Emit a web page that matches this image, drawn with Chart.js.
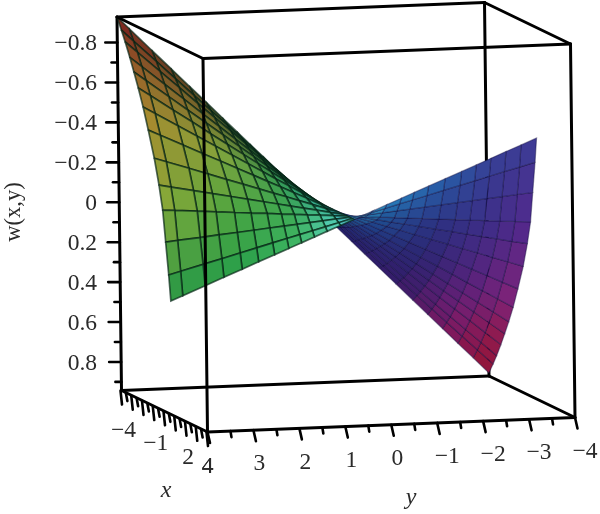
<!DOCTYPE html>
<html>
<head>
<meta charset="UTF-8">
<title>w(x,y)</title>
<script src="https://cdn.jsdelivr.net/npm/chart.js@4.4.0/dist/chart.umd.min.js"></script>
<style>
  html, body { margin: 0; padding: 0; background: #fff; }
  canvas { display: block; filter: blur(0.35px); }
</style>
</head>
<body>
<canvas id="plot" width="600" height="514"></canvas>
<script>
// --- axis ranges and tick labels ---
const xRange = [-4, 4];
const yRange = [4, -4];
const wRange = [-0.928, 0.943];
const wTicks = [-0.8, -0.7, -0.6, -0.5, -0.4, -0.3, -0.2, -0.1, 0, 0.1, 0.2, 0.3, 0.4, 0.5, 0.6, 0.7, 0.8, 0.9];
const wLabels = ["−0.8", "−0.6", "−0.4", "−0.2", "0", "0.2", "0.4", "0.6", "0.8"];
const wLabelValues = [-0.8, -0.6, -0.4, -0.2, 0, 0.2, 0.4, 0.6, 0.8];
const xTicks = [-4, -3.5, -3, -2.5, -2, -1.5, -1, -0.5, 0, 0.5, 1, 1.5, 2, 2.5, 3, 3.5, 4];
const xLabels = ["−4", "−1", "2", "4"];
const xLabelValues = [-4, -1, 2, 4];
const yTicks = [4, 3.5, 3, 2.5, 2, 1.5, 1, 0.5, 0, -0.5, -1, -1.5, -2, -2.5, -3, -3.5, -4];
const yLabels = ["4", "3", "2", "1", "0", "−1", "−2", "−3", "−4"];
const yLabelValues = [4, 3, 2, 1, 0, -1, -2, -3, -4];

// --- surface mesh, values ---
const meshX = [-4, -3.6, -3.26, -2.85, -2.48, -2.09, -1.66, -1.2, -0.67, -0.26, 0.06, 0.3, 0.55, 0.72];
const meshY = [4, 3.74, 3.25, 2.84, 2.44, 2.08, 1.73, 1.42, 1.14, 0.86, 0.58, 0.29, 0, -0.4, -0.72, -1.04, -1.32, -1.64, -2, -2.36, -2.68, -3, -3.33, -3.66, -4];
const meshW = [
  [-.928, -.868, -.754, -.659, -.566, -.483, -.401, -.329, -.264, -.2, -.135, -.067, 0, .093, .167, .241, .306, .38, .464, .548, .622, .696, .773, .849, .928],
  [-.872, -.815, -.709, -.619, -.532, -.453, -.377, -.31, -.249, -.187, -.126, -.063, 0, .087, .157, .227, .288, .358, .436, .514, .584, .654, .726, .798, .872],
  [-.822, -.769, -.668, -.584, -.501, -.427, -.356, -.292, -.234, -.177, -.119, -.06, 0, .082, .148, .214, .271, .337, .411, .485, .551, .617, .684, .752, .822],
  [-.756, -.707, -.614, -.537, -.461, -.393, -.327, -.268, -.215, -.163, -.11, -.055, 0, .076, .136, .197, .249, .31, .378, .446, .507, .567, .629, .692, .756],
  [-.692, -.647, -.562, -.491, -.422, -.36, -.299, -.246, -.197, -.149, -.1, -.05, 0, .069, .125, .18, .228, .284, .346, .408, .464, .519, .576, .633, .692],
  [-.622, -.582, -.505, -.442, -.379, -.323, -.269, -.221, -.177, -.134, -.09, -.045, 0, .062, .112, .162, .205, .255, .311, .367, .417, .467, .518, .569, .622],
  [-.538, -.503, -.437, -.382, -.328, -.28, -.233, -.191, -.153, -.116, -.078, -.039, 0, .054, .097, .14, .178, .221, .269, .317, .36, .404, .448, .492, .538],
  [-.434, -.406, -.353, -.308, -.265, -.226, -.188, -.154, -.124, -.093, -.063, -.031, 0, .043, .078, .113, .143, .178, .217, .256, .291, .326, .361, .397, .434],
  [-.307, -.287, -.25, -.218, -.187, -.16, -.133, -.109, -.088, -.066, -.045, -.022, 0, .031, .055, .08, .101, .126, .154, .181, .206, .23, .256, .281, .307],
  [-.183, -.171, -.149, -.13, -.112, -.095, -.079, -.065, -.052, -.039, -.027, -.013, 0, .018, .033, .048, .06, .075, .092, .108, .123, .137, .153, .168, .183],
  [-.066, -.062, -.054, -.047, -.04, -.034, -.029, -.023, -.019, -.014, -.01, -.005, 0, .007, .012, .017, .022, .027, .033, .039, .044, .05, .055, .06, .066],
  [.088, .082, .072, .062, .054, .046, .038, .031, .025, .019, .013, .006, 0, -.009, -.016, -.023, -.029, -.036, -.044, -.052, -.059, -.066, -.073, -.081, -.088],
  [.246, .23, .2, .175, .15, .128, .106, .087, .07, .053, .036, .018, 0, -.025, -.044, -.064, -.081, -.101, -.123, -.145, -.165, -.185, -.205, -.225, -.246],
  [.372, .348, .302, .264, .227, .193, .161, .132, .106, .08, .054, .027, 0, -.037, -.067, -.097, -.123, -.153, -.186, -.219, -.249, -.279, -.31, -.34, -.372],
];

// --- shading: colour stops along the mesh (rows go with meshY, columns with meshX) ---
const shadeStopsV = [0, 0.17, 0.33, 0.46, 0.5, 0.58, 0.75, 0.88, 1];
const shadeStops = [
  [[125, 30, 30], [150, 85, 40], [170, 135, 45], [140, 170, 55], [35, 150, 70]],
  [[90, 70, 35], [125, 115, 45], [130, 165, 60], [75, 165, 65], [40, 160, 75]],
  [[35, 95, 55], [50, 115, 60], [55, 155, 80], [60, 170, 85], [65, 185, 105]],
  [[20, 90, 80], [30, 125, 110], [45, 160, 140], [70, 195, 170], [95, 215, 200]],
  [[25, 65, 100], [30, 95, 130], [40, 130, 160], [60, 170, 190], [80, 190, 205]],
  [[35, 30, 105], [35, 45, 115], [30, 65, 135], [30, 85, 150], [40, 130, 190]],
  [[55, 28, 105], [50, 32, 110], [45, 38, 115], [45, 50, 130], [40, 95, 170]],
  [[125, 25, 95], [115, 30, 115], [85, 35, 125], [60, 45, 135], [55, 65, 150]],
  [[150, 20, 50], [150, 25, 70], [130, 35, 120], [85, 40, 140], [60, 60, 150]],
];

// box projection (the view has next to no perspective, so an affine map is enough)
function project(x, y, w) {
  const tx = (x - xRange[0]) / (xRange[1] - xRange[0]);
  const ty = (y - yRange[0]) / (yRange[1] - yRange[0]);
  const tw = (w - wRange[0]) / (wRange[1] - wRange[0]);
  return { x: 117 + 86 * tx + 367.5 * ty + 4.5 * tw, y: 17 + 41.5 * tx - 14.5 * ty + 373.5 * tw };
}

function shade(u, v) {
  let i = 0;
  while (i < shadeStopsV.length - 2 && v > shadeStopsV[i + 1]) i++;
  const fv = (v - shadeStopsV[i]) / (shadeStopsV[i + 1] - shadeStopsV[i]);
  const su = Math.min(u * 4, 3.999);
  const j = Math.floor(su), fu = su - j;
  const c = [0, 1, 2].map((k) => {
    const a = shadeStops[i][j][k] * (1 - fu) + shadeStops[i][j + 1][k] * fu;
    const b = shadeStops[i + 1][j][k] * (1 - fu) + shadeStops[i + 1][j + 1][k] * fu;
    return Math.round(a * (1 - fv) + b * fv);
  });
  return `rgb(${c[0]},${c[1]},${c[2]})`;
}

const paint = [];

function addLine(a, b, width, color) {
  paint.push({ data: [a, b], borderColor: color || "#000", borderWidth: width, showLine: true, pointRadius: 0, fill: false, clip: false });
}

function edge(a, b) {
  addLine(project(...a), project(...b), 3);
}

const [x0, x1] = xRange, [y0, y1] = yRange, [w0, w1] = wRange;

// back of the box, hidden by the surface
edge([x0, y0, w0], [x0, y1, w0]);
edge([x0, y0, w1], [x0, y1, w1]);
edge([x0, y0, w0], [x0, y0, w1]);
edge([x0, y1, w0], [x0, y1, w1]);

// surface, far side first
for (let c = meshY.length - 2; c >= 0; c--) {
  for (let r = 0; r < meshX.length - 1; r++) {
    const u = (r + 0.5) / (meshX.length - 1);
    const v = (c + 0.5) / (meshY.length - 1);
    const cell = [
      project(meshX[r], meshY[c], meshW[r][c]),
      project(meshX[r + 1], meshY[c], meshW[r + 1][c]),
      project(meshX[r + 1], meshY[c + 1], meshW[r + 1][c + 1]),
      project(meshX[r], meshY[c + 1], meshW[r][c + 1]),
    ];
    cell.push(cell[0]);
    paint.push({
      data: cell,
      backgroundColor: shade(u, v),
      borderColor: v < 0.5 ? "rgba(5,35,20,0.68)" : "rgba(15,10,60,0.42)",
      borderWidth: v < 0.5 ? 1.7 : 1.2,
      fill: "shape",
      showLine: true,
      pointRadius: 0,
      clip: false,
    });
  }
}

// front of the box
edge([x1, y0, w0], [x1, y1, w0]);
edge([x1, y0, w1], [x1, y1, w1]);
edge([x1, y0, w0], [x1, y0, w1]);
edge([x1, y1, w0], [x1, y1, w1]);
edge([x0, y0, w0], [x1, y0, w0]);
edge([x0, y1, w0], [x1, y1, w0]);
edge([x0, y0, w1], [x1, y0, w1]);
edge([x0, y1, w1], [x1, y1, w1]);

// tick marks
wTicks.forEach((w, i) => {
  const p = project(x0, y0, w);
  addLine(p, { x: p.x - (i % 2 ? 6 : 12), y: p.y }, 2.6);
});
xTicks.forEach((x, i) => {
  const p = project(x, y0, w1);
  addLine({ x: p.x - 1, y: p.y }, { x: p.x + 0.5, y: p.y + (i % 2 ? 8 : 14) }, 2.6);
});
yTicks.forEach((y, i) => {
  const p = project(x1, y, w1);
  addLine(p, { x: p.x + (i % 2 ? 1 : 2.5), y: p.y + (i % 2 ? 6 : 11) }, 2.6);
});

paint.forEach((d, i) => { d.order = paint.length - i; });

const axisText = {
  id: "axisText",
  afterDraw(chart) {
    const { ctx, scales } = chart;
    const px = (p) => ({ x: scales.x.getPixelForValue(p.x), y: scales.y.getPixelForValue(p.y) });
    ctx.save();
    ctx.fillStyle = "#2a2a2a";
    ctx.textBaseline = "middle";
    ctx.font = '23.5px "Liberation Serif"';

    ctx.textAlign = "right";
    wLabels.forEach((s, i) => {
      const p = px(project(x0, y0, wLabelValues[i]));
      ctx.fillText(s, 97, p.y + 1.5);
    });

    ctx.textAlign = "center";
    xLabels.forEach((s, i) => {
      const p = px(project(xLabelValues[i], y0, w1));
      const dy = 40 - 5 * (xLabelValues[i] + 4) / 8;
      ctx.fillText(s, p.x + (i === 3 ? 0 : 2), p.y + dy);
    });
    yLabels.forEach((s, i) => {
      const p = px(project(x1, yLabelValues[i], w1));
      const dx = yLabelValues[i] < 0 ? 10 : yLabelValues[i] === 4 ? 0 : 6;
      ctx.fillText(s, p.x + dx, p.y + (i === 0 ? 35 : 34));
    });

    ctx.font = 'italic 24px "Liberation Serif"';
    ctx.fillText("x", 166, 491);
    ctx.fillText("y", 411, 498);

    ctx.font = '22.5px "Liberation Serif"';
    ctx.translate(14, 212);
    ctx.rotate(-Math.PI / 2);
    ctx.fillText("w(x,y)", 0, 0);
    ctx.restore();
  },
};

new Chart(document.getElementById("plot"), {
  type: "scatter",
  data: { datasets: paint },
  options: {
    responsive: false,
    animation: false,
    layout: { padding: 0 },
    elements: { line: { tension: 0, borderCapStyle: "round" } },
    scales: {
      x: { type: "linear", min: 0, max: 600, display: false },
      y: { type: "linear", min: 0, max: 514, reverse: true, display: false },
    },
    plugins: { legend: { display: false }, tooltip: { enabled: false } },
  },
  plugins: [axisText],
});
</script>
</body>
</html>
